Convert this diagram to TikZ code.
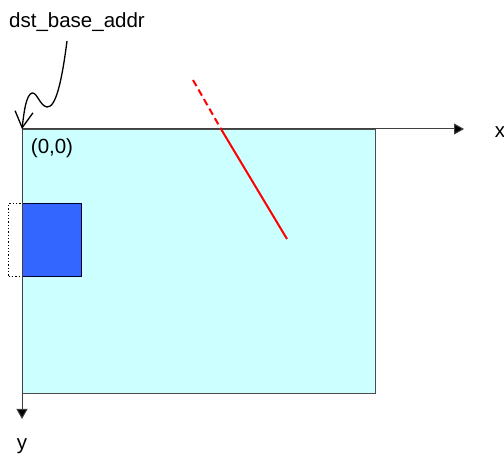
\documentclass[tikz,border=0pt]{standalone}
\usepackage{fontspec}
\setmainfont{Liberation Sans}
\usetikzlibrary{arrows.meta}
\begin{document}
\begin{tikzpicture}[x=1pt,y=-1pt,
  lbl/.style={font=\fontsize{20.5}{22}\selectfont, inner sep=0pt},
  axis/.style={draw=black!75, line width=1pt, -{Triangle[length=10pt,width=11pt,fill=black]}},
  redline/.style={red, line width=2pt}]
\useasboundingbox (0,0) rectangle (504,457);
% main area
\node[draw=black!70, line width=1pt, fill={rgb,255:red,204;green,255;blue,255}, minimum width=353pt, minimum height=264pt, anchor=north west, inner sep=0pt] (area) at (22,129) {};
% dotted box
\node[draw=black, dotted, line width=1.3pt, minimum width=14pt, minimum height=73pt, anchor=north west, inner sep=0pt] (dot) at (8,203) {};
% blue box
\node[draw=black!80!blue, line width=1pt, fill={rgb,255:red,51;green,102;blue,255}, minimum width=59pt, minimum height=73pt, anchor=north west, inner sep=0pt] (blue) at (22,203) {};
% axes
\coordinate (o) at (22,129);
\coordinate (xend) at (464,129);
\coordinate (yend) at (22,419);
\draw[axis] (o) -- (xend);
\draw[axis] (o) -- (yend);
\node[lbl] (xl) at (500,132) {x};
\node[lbl] (yl) at (22,446) {y};
\node[lbl] (origin) at (52,148) {(0,0)};
% red line
\coordinate (r1) at (193,80);
\coordinate (r2) at (221,129);
\coordinate (r3) at (287,239);
\draw[redline, dash pattern=on 7pt off 4pt] (r1) -- (r2);
\draw[redline] (r2) -- (r3);
% label and curly arrow
\node[lbl] (dst) at (77,22) {dst\_base\_addr};
\coordinate (c0) at (67,41);
\draw[line width=1.3pt, -{Straight Barb[length=16pt,width=18pt,line width=1.3pt]}]
  (c0) .. controls (62,80) and (56,108) .. (47,107)
  .. controls (40,106) and (37,92) .. (32,93)
  .. controls (26,95) and (24,112) .. (o);
\end{tikzpicture}
\end{document}
